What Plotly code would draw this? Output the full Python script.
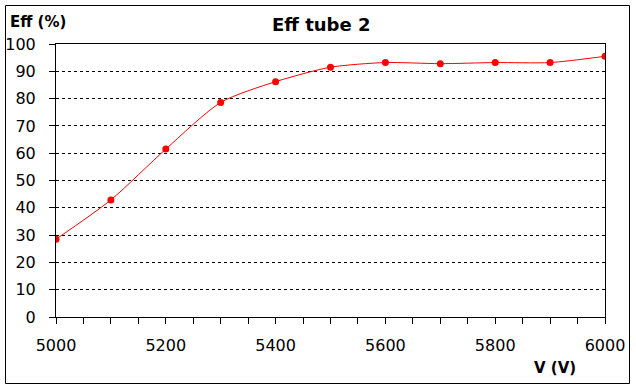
import plotly.graph_objects as go

voltage = [5000, 5100, 5200, 5300, 5400, 5500, 5600, 5700, 5800, 5900, 6000]
efficiency = [28.5, 42.9, 61.5, 78.6, 86.2, 91.5, 93.2, 92.8, 93.2, 93.2, 95.5]

x_tickvals = [5000, 5200, 5400, 5600, 5800, 6000]
y_tickvals = [0, 10, 20, 30, 40, 50, 60, 70, 80, 90, 100]

FONT = "DejaVu Sans, Liberation Sans, Arial, sans-serif"

fig = go.Figure()
fig.add_trace(go.Scatter(
    x=voltage, y=efficiency, mode="lines+markers",
    line=dict(color="#FF0000", width=1, shape="spline", smoothing=0.7),
    marker=dict(color="#FF0000", size=7, symbol="circle"),
    showlegend=False, hoverinfo="x+y",
))

L, R, T, B = 56, 605, 44, 317
W, H = 636, 390

def px(xp):
    return (xp - L) / (R - L)

def py(yp):
    return (B - yp) / (B - T)

fig.update_layout(
    width=W, height=H,
    margin=dict(l=L, r=W - R, t=T, b=H - B, autoexpand=False),
    paper_bgcolor="white", plot_bgcolor="white",
    font=dict(family=FONT, size=16, color="black"),
    xaxis=dict(
        range=[5000, 6000], tickvals=x_tickvals, ticks="outside", ticklen=6,
        tickcolor="black", tickwidth=1, showline=True, linecolor="black",
        linewidth=1, mirror=True, showgrid=False, zeroline=False,
        ticklabelstandoff=8, automargin=False,
        minor=dict(dtick=50, tick0=5000, ticks="outside", ticklen=6,
                   tickcolor="black", tickwidth=1, showgrid=False),
    ),
    yaxis=dict(
        range=[0, 100], tickvals=y_tickvals, ticks="outside", ticklen=6,
        tickcolor="black", tickwidth=1, showline=True, linecolor="black",
        linewidth=1, mirror=True, showgrid=True, gridcolor="black",
        griddash="3px,3px", gridwidth=1, zeroline=False,
        ticklabelstandoff=10, automargin=False,
    ),
    shapes=[dict(type="rect", xref="paper", yref="paper",
                 x0=px(5.5), x1=px(629.5), y0=py(383.5), y1=py(5.5),
                 line=dict(color="black", width=1), layer="below")],
    annotations=[
        dict(text="<b>Eff tube 2</b>", xref="paper", yref="paper",
             x=px(321), y=py(24), showarrow=False,
             font=dict(size=18, family=FONT), xanchor="center", yanchor="middle"),
        dict(text="<b>Eff (%)</b>", xref="paper", yref="paper",
             x=px(8), y=py(22), showarrow=False,
             font=dict(size=15, family=FONT), xanchor="left", yanchor="middle"),
        dict(text="<b>V (V)</b>", xref="paper", yref="paper",
             x=px(578), y=py(368), showarrow=False,
             font=dict(size=15, family=FONT), xanchor="right", yanchor="middle"),
    ],
)

fig.write_html(
    "out.html",
    config={"displayModeBar": False},
    post_script="document.body.style.margin='0';document.body.style.overflow='hidden';",
)
